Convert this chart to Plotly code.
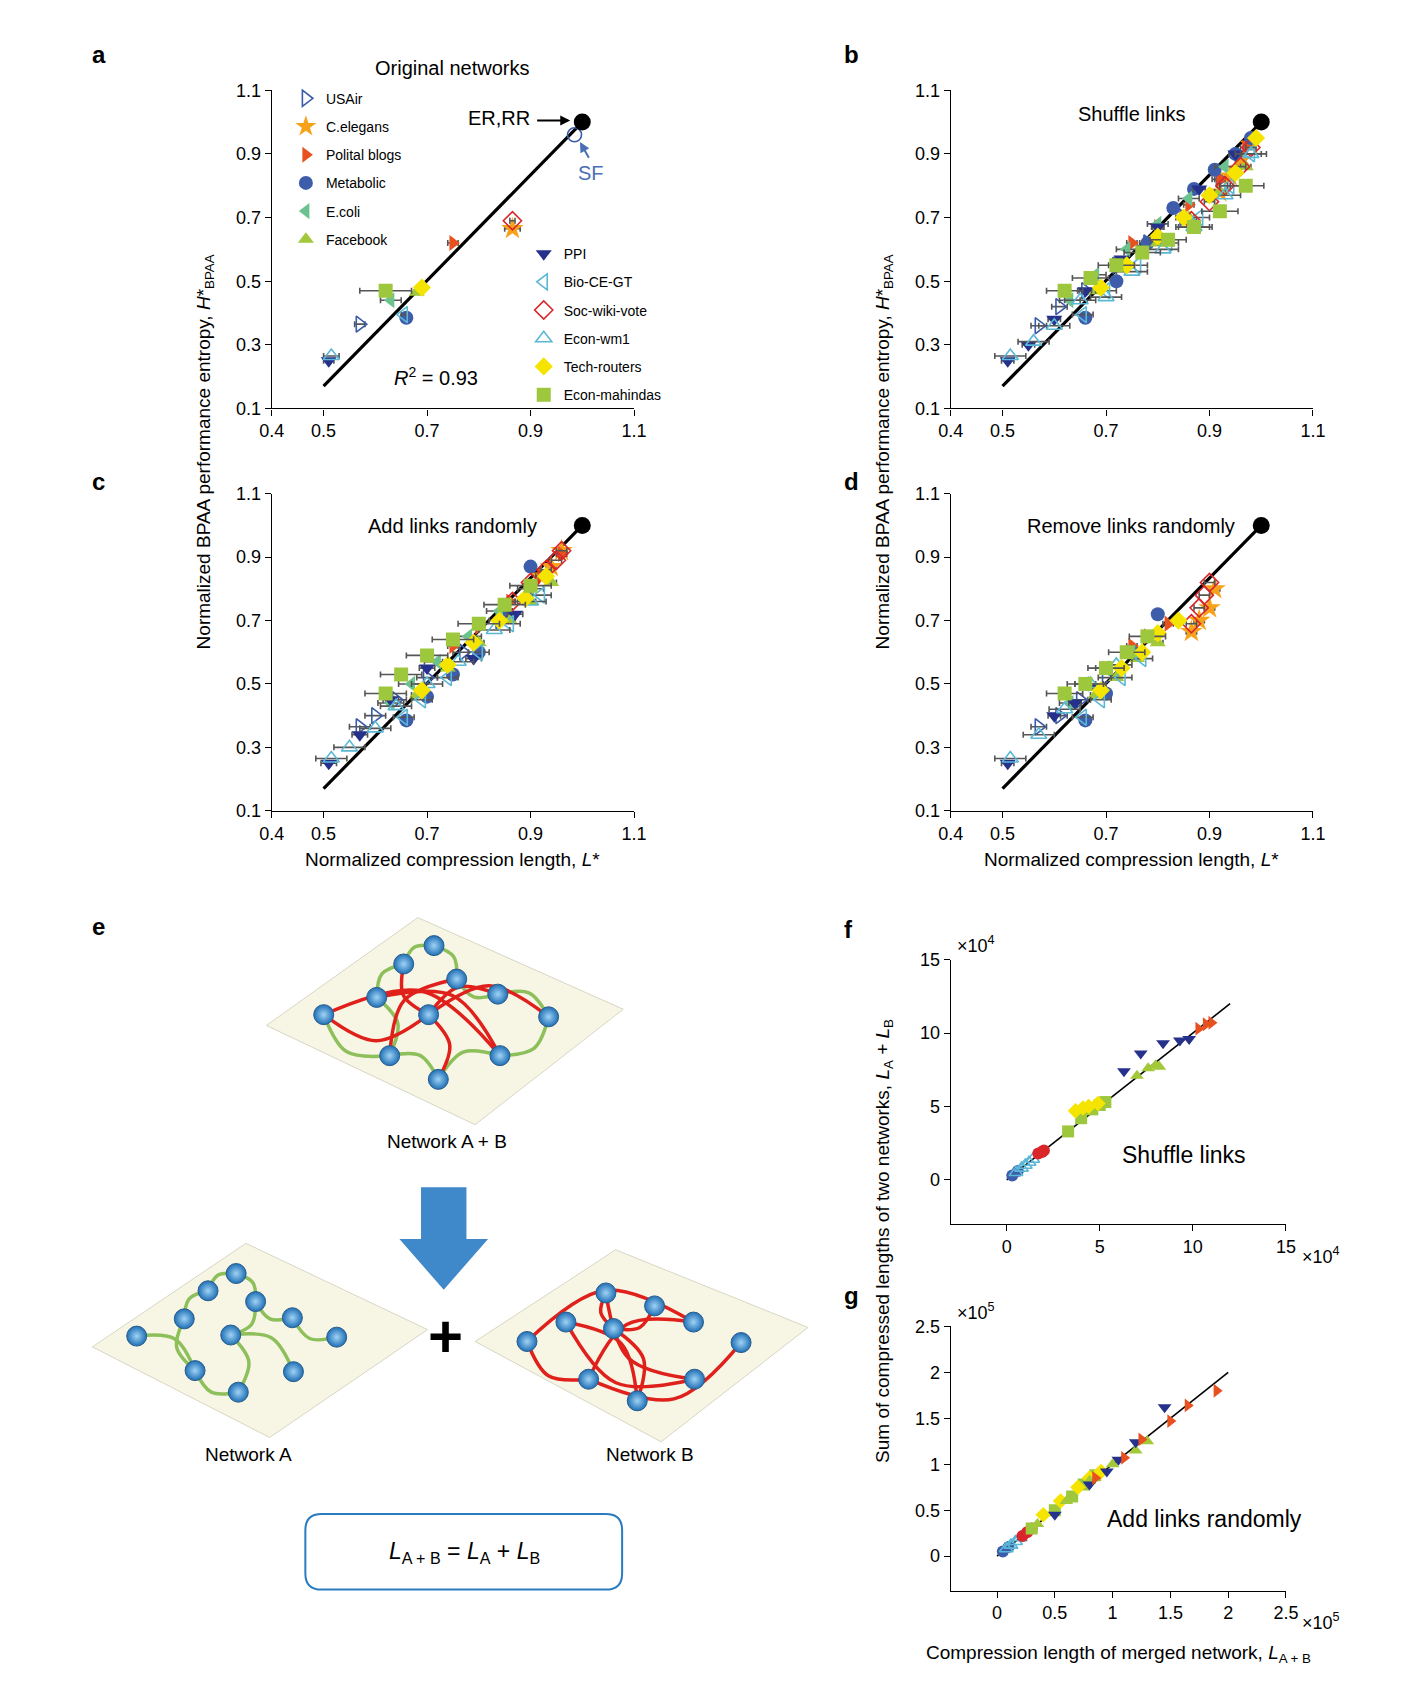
import plotly.graph_objects as go

W, H = 1402, 1691
# layout coordinates below were read on a scaled view of the reference
VW, VH = 1300, 1568
SX, OX = 0.979, 20
SY, OY = 0.988, 16
FONT = "Liberation Sans"

NETWORKS = ["USAir", "C.elegans", "Polital blogs", "Metabolic", "E.coli", "Facebook",
            "PPI", "Bio-CE-GT", "Soc-wiki-vote", "Econ-wm1", "Tech-routers", "Econ-mahindas"]
SYMBOLS = ["triangle-right-open", "star", "triangle-right", "circle", "triangle-left", "triangle-up",
           "triangle-down", "triangle-left-open", "diamond-open", "triangle-up-open", "diamond", "square"]
COLORS = ["#3a5ba8", "#f7a21b", "#e8501f", "#3d5daa", "#6cc28f", "#a3c93a",
          "#25318a", "#5ab8d6", "#d9262a", "#5ab8d6", "#f5e400", "#9dc73c"]

# panel a: original networks
a_x = [0.57, 0.865, 0.75, 0.66, 0.63, 0.68, 0.51, 0.655, 0.865, 0.515, 0.69, 0.62]
a_y = [0.365, 0.665, 0.62, 0.385, 0.44, 0.465, 0.25, 0.395, 0.69, 0.265, 0.48, 0.47]
a_err = [0.01, 0.015, 0.01, 0.005, 0.02, 0.005, 0.01, 0.005, 0.005, 0.015, 0.005, 0.05]
sf_x, sf_y = [0.985], [0.96]
er_x, er_y = [1.0], [1.0]
fit_x = [0.5, 1.0]
fit_y = [0.17, 1.0]

# panel b: shuffle links
b_x = [[0.57, 0.61, 0.66, 0.72, 0.78, 0.85, 0.92], [0.92, 0.94, 0.96, 0.98],
       [0.75, 0.8, 0.86, 0.92, 0.97], [0.66, 0.72, 0.78, 0.83, 0.87, 0.91, 0.95, 0.98],
       [0.63, 0.68, 0.74, 0.8, 0.86, 0.93], [0.68, 0.74, 0.8, 0.86, 0.92, 0.97],
       [0.51, 0.55, 0.6, 0.66, 0.73, 0.8, 0.88, 0.95], [0.655, 0.7, 0.76, 0.82, 0.88, 0.94, 0.98],
       [0.865, 0.9, 0.93, 0.96, 0.98], [0.515, 0.56, 0.6, 0.65, 0.7, 0.75, 0.81, 0.87, 0.93, 0.98],
       [0.69, 0.74, 0.8, 0.85, 0.9, 0.95, 0.99], [0.62, 0.67, 0.72, 0.77, 0.82, 0.87, 0.92, 0.97]]
b_y = [[0.36, 0.42, 0.47, 0.55, 0.62, 0.7, 0.82], [0.78, 0.83, 0.88, 0.93],
       [0.62, 0.67, 0.74, 0.82, 0.92], [0.385, 0.5, 0.62, 0.73, 0.79, 0.85, 0.9, 0.95],
       [0.44, 0.52, 0.6, 0.68, 0.76, 0.86], [0.47, 0.55, 0.62, 0.7, 0.78, 0.86],
       [0.25, 0.3, 0.38, 0.47, 0.57, 0.67, 0.79, 0.9], [0.395, 0.47, 0.55, 0.62, 0.7, 0.8, 0.9],
       [0.69, 0.75, 0.8, 0.86, 0.92], [0.265, 0.31, 0.36, 0.44, 0.45, 0.53, 0.6, 0.67, 0.77, 0.9],
       [0.48, 0.55, 0.64, 0.7, 0.77, 0.84, 0.95], [0.47, 0.51, 0.55, 0.59, 0.63, 0.67, 0.72, 0.8]]
b_err = [0.015, 0.01, 0.01, 0.005, 0.02, 0.01, 0.012, 0.02, 0.01, 0.03, 0.01, 0.035]

# panel c: add links randomly
c_x = [[0.57, 0.6, 0.64, 0.7, 0.77, 0.84], [0.92, 0.94, 0.96], [0.75, 0.8, 0.86, 0.92, 0.96],
       [0.66, 0.7, 0.75, 0.8, 0.85, 0.9], [0.63, 0.67, 0.72, 0.78, 0.84, 0.9],
       [0.68, 0.74, 0.8, 0.86, 0.9, 0.94], [0.51, 0.57, 0.63, 0.7, 0.79, 0.87],
       [0.655, 0.69, 0.74, 0.8, 0.86, 0.92], [0.865, 0.9, 0.93, 0.95, 0.96],
       [0.515, 0.55, 0.6, 0.64, 0.7, 0.76, 0.83, 0.9], [0.69, 0.74, 0.79, 0.84, 0.89, 0.93],
       [0.62, 0.65, 0.7, 0.75, 0.8, 0.85, 0.9]]
c_y = [[0.365, 0.4, 0.45, 0.52, 0.6, 0.7], [0.84, 0.87, 0.92], [0.62, 0.68, 0.76, 0.84, 0.91],
       [0.385, 0.46, 0.53, 0.6, 0.72, 0.87], [0.44, 0.5, 0.57, 0.65, 0.73, 0.8],
       [0.465, 0.55, 0.63, 0.7, 0.76, 0.82], [0.25, 0.34, 0.45, 0.55, 0.58, 0.72],
       [0.395, 0.45, 0.52, 0.6, 0.69, 0.78], [0.76, 0.82, 0.86, 0.89, 0.92],
       [0.265, 0.3, 0.36, 0.43, 0.5, 0.57, 0.67, 0.76], [0.48, 0.56, 0.63, 0.7, 0.77, 0.84],
       [0.47, 0.53, 0.59, 0.64, 0.69, 0.75, 0.81]]
c_err = [0.02, 0.01, 0.01, 0.008, 0.025, 0.01, 0.015, 0.02, 0.01, 0.03, 0.01, 0.04]

# panel d: remove links randomly
d_x = [[0.57, 0.61, 0.65, 0.7], [0.865, 0.88, 0.9, 0.91], [0.75, 0.78, 0.82],
       [0.66, 0.7, 0.75, 0.8], [0.63, 0.66, 0.7, 0.75], [0.68, 0.72, 0.76, 0.8],
       [0.51, 0.6, 0.64, 0.68], [0.655, 0.69, 0.73, 0.77], [0.865, 0.88, 0.89, 0.9],
       [0.515, 0.57, 0.62, 0.67, 0.72], [0.69, 0.73, 0.77, 0.8, 0.84], [0.62, 0.66, 0.7, 0.74, 0.78]]
d_y = [[0.365, 0.4, 0.45, 0.52], [0.665, 0.7, 0.74, 0.8], [0.62, 0.65, 0.69],
       [0.385, 0.47, 0.6, 0.72], [0.44, 0.5, 0.55, 0.6], [0.465, 0.52, 0.58, 0.63],
       [0.25, 0.4, 0.44, 0.49], [0.395, 0.45, 0.52, 0.58], [0.69, 0.74, 0.78, 0.82],
       [0.265, 0.34, 0.42, 0.5, 0.56], [0.48, 0.55, 0.6, 0.66, 0.7], [0.47, 0.5, 0.55, 0.6, 0.65]]
d_err = [0.015, 0.01, 0.01, 0.005, 0.02, 0.01, 0.012, 0.02, 0.01, 0.03, 0.01, 0.035]

# panel f (x1e4) and g (x1e5): merged vs sum, index into NETWORKS
fg_nets = [3, 9, 8, 11, 10, 5, 6, 2]
f_x = [[0.3, 0.6], [0.5, 0.8, 1.0, 1.2, 1.4], [1.7, 1.9, 2.0], [3.3, 4.0, 4.6, 5.0, 5.3],
       [3.7, 4.1, 4.4, 4.9], [7.0, 7.6, 8.0, 8.2], [6.3, 7.2, 8.4, 9.3, 9.8], [10.3, 10.7, 11.0]]
f_y = [[0.3, 0.6], [0.5, 0.8, 1.0, 1.2, 1.4], [1.8, 1.9, 2.0], [3.3, 4.2, 4.8, 5.1, 5.3],
       [4.7, 4.9, 5.0, 5.2], [7.1, 7.6, 7.8, 7.7], [7.4, 8.6, 9.3, 9.5, 9.6], [10.3, 10.6, 10.7]]
g_x = [[0.05, 0.1], [0.08, 0.12, 0.16, 0.2], [0.22, 0.26, 0.3], [0.3, 0.5, 0.65, 0.75, 0.85],
       [0.4, 0.55, 0.7, 0.8, 0.9], [0.35, 0.6, 0.8, 1.0, 1.2, 1.3], [0.5, 0.8, 0.95, 1.05, 1.2, 1.45],
       [0.85, 1.1, 1.25, 1.5, 1.65, 1.9]]
g_y = [[0.05, 0.1], [0.08, 0.12, 0.16, 0.2], [0.22, 0.26, 0.3], [0.3, 0.5, 0.65, 0.78, 0.88],
       [0.45, 0.6, 0.75, 0.85, 0.92], [0.35, 0.6, 0.82, 1.0, 1.15, 1.25], [0.45, 0.78, 0.92, 1.05, 1.24, 1.62],
       [0.85, 1.07, 1.27, 1.47, 1.64, 1.8]]
f_line = [0, 12]
g_line = [0, 2]

# panel e illustration (view pixel units)
plane_ab = [(247, 950), (387, 850), (577, 935), (440, 1042)]
plane_a = [(86, 1248), (228, 1152), (396, 1232), (250, 1332)]
plane_b = [(440, 1243), (570, 1158), (748, 1230), (612, 1336)]
nodes_ab = [(402, 876), (374, 893), (423, 907), (461, 921), (349, 924), (397, 940), (300, 940),
            (508, 942), (361, 978), (463, 978), (406, 1000)]
green_ab = [(0, 1), (0, 2), (2, 3), (3, 7), (1, 4), (4, 8), (6, 8), (7, 9), (9, 10), (8, 10)]
red_ab = [(6, 5), (5, 7), (1, 5), (4, 9), (2, 8), (5, 10), (3, 5), (6, 9)]
nodes_a = [(219, 1180), (193, 1196), (237, 1206), (271, 1221), (171, 1222), (214, 1237), (127, 1238),
           (312, 1239), (181, 1270), (272, 1271), (221, 1290)]
edges_a = [(0, 1), (0, 2), (1, 4), (2, 5), (3, 7), (6, 8), (4, 8), (5, 9), (8, 10), (5, 10), (2, 3)]
nodes_b = [(561, 1198), (606, 1210), (524, 1225), (642, 1225), (568, 1231), (488, 1243), (686, 1244),
           (545, 1278), (643, 1278), (590, 1298)]
edges_b = [(0, 4), (1, 4), (2, 8), (5, 3), (5, 7), (4, 9), (3, 7), (6, 7), (0, 8), (2, 9)]

fig = go.Figure()


def px(x):
    return (x - OX) / SX / VW


def py(y):
    return 1 - (y - OY) / SY / VH


def dom_x(a, b):
    return [px(a), px(b)]


def dom_y(top, bottom):
    return [py(bottom), py(top)]


axis_font = dict(family=FONT, size=18, color="black")


def base_axis(**kw):
    d = dict(showline=True, linecolor="black", linewidth=1.4, ticks="outside", ticklen=6,
             tickcolor="black", showgrid=False, zeroline=False, tickfont=axis_font)
    d.update(kw)
    return d


panel_boxes = {"": (252, 587, 83, 378), "2": (880, 1215, 83, 378),
               "3": (252, 587, 457, 751), "4": (880, 1215, 457, 751)}
layout_axes = {}
for k, (x0, x1, y0, y1) in panel_boxes.items():
    layout_axes["xaxis" + k] = base_axis(domain=dom_x(x0, x1), range=[0.4, 1.1],
                                         tickvals=[0.4, 0.5, 0.7, 0.9, 1.1], anchor="y" + k)
    layout_axes["yaxis" + k] = base_axis(domain=dom_y(y0, y1), range=[0.1, 1.1],
                                         tickvals=[0.1, 0.3, 0.5, 0.7, 0.9, 1.1], anchor="x" + k)
layout_axes["xaxis5"] = base_axis(domain=dom_x(880, 1190), range=[-3, 15], tickvals=[0, 5, 10, 15], anchor="y5")
layout_axes["yaxis5"] = base_axis(domain=dom_y(889, 1134), range=[-3, 15], tickvals=[0, 5, 10, 15], anchor="x5")
layout_axes["xaxis6"] = base_axis(domain=dom_x(880, 1190), range=[-0.4, 2.5],
                                  tickvals=[0, 0.5, 1, 1.5, 2, 2.5], ticktext=["0", "0.5", "1", "1.5", "2", "2.5"],
                                  anchor="y6")
layout_axes["yaxis6"] = base_axis(domain=dom_y(1229, 1474), range=[-0.375, 2.5],
                                  tickvals=[0, 0.5, 1, 1.5, 2, 2.5], ticktext=["0", "0.5", "1", "1.5", "2", "2.5"],
                                  anchor="x6")
layout_axes["xaxis7"] = dict(domain=[0, 1], range=[OX, OX + SX * VW], visible=False, anchor="y7")
layout_axes["yaxis7"] = dict(domain=[0, 1], range=[OY + SY * VH, OY], visible=False, anchor="x7")

ax_ids = {"": ("x", "y"), "2": ("x2", "y2"), "3": ("x3", "y3"), "4": ("x4", "y4")}


def add_fit(xa, ya):
    fig.add_trace(go.Scatter(x=fit_x, y=fit_y, mode="lines", line=dict(color="black", width=3.2),
                             showlegend=False, xaxis=xa, yaxis=ya, hoverinfo="skip"))


def marker_for(i, size=14):
    open_ = SYMBOLS[i].endswith("open")
    return dict(symbol=SYMBOLS[i], color=COLORS[i], size=size + (3 if SYMBOLS[i] == "star" else 0),
                line=dict(color=COLORS[i], width=1.6 if open_ else 0))


err_style = dict(type="data", color="#555555", thickness=1.6, width=3)

# panel a
add_fit("x", "y")
for i, name in enumerate(NETWORKS):
    fig.add_trace(go.Scatter(x=[a_x[i]], y=[a_y[i]], mode="markers", name=name, marker=marker_for(i),
                             error_x=dict(array=[a_err[i]], **err_style), xaxis="x", yaxis="y",
                             legendgroup=name, legend="legend" if i < 6 else "legend2"))
fig.add_trace(go.Scatter(x=sf_x, y=sf_y, mode="markers", showlegend=False, xaxis="x", yaxis="y",
                         marker=dict(symbol="circle-open", size=14, color="#3a5ba8", line=dict(width=1.6))))
fig.add_trace(go.Scatter(x=er_x, y=er_y, mode="markers", showlegend=False, xaxis="x", yaxis="y",
                         marker=dict(size=17, color="black")))

# panels b, c, d
for k, (xs, ys, es) in {"2": (b_x, b_y, b_err), "3": (c_x, c_y, c_err), "4": (d_x, d_y, d_err)}.items():
    xa, ya = ax_ids[k]
    add_fit(xa, ya)
    for i in range(len(NETWORKS)):
        fig.add_trace(go.Scatter(x=xs[i], y=ys[i], mode="markers", showlegend=False, marker=marker_for(i),
                                 error_x=dict(array=[es[i]] * len(xs[i]), **err_style), xaxis=xa, yaxis=ya))
    fig.add_trace(go.Scatter(x=er_x, y=er_y, mode="markers", showlegend=False, xaxis=xa, yaxis=ya,
                             marker=dict(size=17, color="black")))

# panels f, g
for xa, ya, xs, ys, ln in [("x5", "y5", f_x, f_y, f_line), ("x6", "y6", g_x, g_y, g_line)]:
    fig.add_trace(go.Scatter(x=ln, y=ln, mode="lines", line=dict(color="black", width=1.6),
                             showlegend=False, xaxis=xa, yaxis=ya))
    for j, i in enumerate(fg_nets):
        m = marker_for(i, size=12)
        if i == 8:
            m = dict(symbol="circle", color=COLORS[i], size=12)
        fig.add_trace(go.Scatter(x=xs[j], y=ys[j], mode="markers", showlegend=False, marker=m,
                                 xaxis=xa, yaxis=ya))

# panel e illustration
shapes = []


def plane(pts):
    path = "M " + " L ".join(f"{x},{y}" for x, y in pts) + " Z"
    shapes.append(dict(type="path", path=path, xref="x7", yref="y7", fillcolor="#f7f5e4",
                       line=dict(color="#d8d6c4", width=1), layer="below"))


def edges(nodes, pairs, color):
    for n, (s, t) in enumerate(pairs):
        (x0, y0), (x1, y1) = nodes[s], nodes[t]
        bend = 0.25 if n % 2 == 0 else -0.25
        mx = (x0 + x1) / 2 - (y1 - y0) * bend
        my = (y0 + y1) / 2 + (x1 - x0) * bend
        fig.add_trace(go.Scatter(x=[x0, mx, x1], y=[y0, my, y1], mode="lines",
                                 line=dict(color=color, width=3.5, shape="spline"),
                                 showlegend=False, xaxis="x7", yaxis="y7", hoverinfo="skip"))


def node_trace(nodes):
    fig.add_trace(go.Scatter(x=[p[0] for p in nodes], y=[p[1] for p in nodes], mode="markers",
                             marker=dict(size=20, color="#1f6fb5", line=dict(color="#2a5c8c", width=1),
                                         gradient=dict(type="radial", color="#9fd3f5")),
                             showlegend=False, xaxis="x7", yaxis="y7", hoverinfo="skip"))


for p in (plane_ab, plane_a, plane_b):
    plane(p)
edges(nodes_ab, green_ab, "#8dbf5a")
edges(nodes_ab, red_ab, "#e0201b")
edges(nodes_a, edges_a, "#8dbf5a")
edges(nodes_b, edges_b, "#e0201b")
node_trace(nodes_ab)
node_trace(nodes_a)
node_trace(nodes_b)

# block arrow and formula box
shapes.append(dict(type="path", xref="x7", yref="y7",
                   path="M 390,1100 L 432,1100 L 432,1148 L 452,1148 L 411,1195 L 370,1148 L 390,1148 Z",
                   fillcolor="#3f88c9", line=dict(width=0)))
shapes.append(dict(type="path", xref="x7", yref="y7",
                   path="M 298,1403 L 561,1403 Q 576,1403 576,1418 L 576,1458 Q 576,1473 561,1473 "
                        "L 298,1473 Q 283,1473 283,1458 L 283,1418 Q 283,1403 298,1403 Z",
                   fillcolor="white", line=dict(color="#2a7cc0", width=2)))

ann = []


def text(x, y, s, size=18, **kw):
    d = dict(x=px(x), y=py(y), xref="paper", yref="paper", text=s, showarrow=False,
             xanchor="center", yanchor="middle",
             font=dict(family=FONT, size=size, color=kw.pop("color", "black")))
    d.update(kw)
    ann.append(d)


def arrow(x0, y0, x1, y1, color):
    ann.append(dict(x=x1, y=y1, ax=x0, ay=y0, xref="x7", yref="y7", axref="x7", ayref="y7",
                    showarrow=True, arrowhead=2, arrowwidth=2, arrowcolor=color, text=""))


for lab, x, y in [("a", 92, 50), ("b", 788, 50), ("c", 92, 446), ("d", 788, 446),
                  ("e", 92, 858), ("f", 785, 861), ("g", 788, 1200)]:
    text(x, y, f"<b>{lab}</b>", size=24)
text(419, 62, "Original networks", size=20)
text(1047, 105, "Shuffle links", size=20)
text(419, 487, "Add links randomly", size=20)
text(1047, 487, "Remove links randomly", size=20)
text(1096, 1070, "Shuffle links", size=23)
text(1115, 1408, "Add links randomly", size=23)
text(404, 348, "<i>R</i><sup>2</sup> = 0.93", size=20)
text(462, 109, "ER,RR", size=20)
arrow(496, 111, 528, 111, "black")
text(547, 160, "SF", size=20, color="#4a6fb5")
arrow(546, 147, 537, 131, "#4a6fb5")
yt = "Normalized BPAA performance entropy, <i>H</i>*<sub>BPAA</sub>"
text(190, 418, yt, size=19, textangle=-90)
text(818, 418, yt, size=19, textangle=-90)
text(419, 796, "Normalized compression length, <i>L</i>*", size=19)
text(1047, 796, "Normalized compression length, <i>L</i>*", size=19)
text(818, 1150, "Sum of compressed lengths of two networks, <i>L</i><sub>A</sub> + <i>L</i><sub>B</sub>",
     size=19, textangle=-90)
text(1035, 1533, "Compression length of merged network, <i>L</i><sub>A + B</sub>", size=19)
text(903, 875, "×10<sup>4</sup>", size=18)
text(1222, 1163, "×10<sup>4</sup>", size=18)
text(903, 1215, "×10<sup>5</sup>", size=18)
text(1222, 1503, "×10<sup>5</sup>", size=18)
text(414, 1058, "Network A + B", size=19)
text(230, 1348, "Network A", size=19)
text(602, 1348, "Network B", size=19)
text(413, 1238, "<b>+</b>", size=60)
text(430, 1439, "<i>L</i><sub>A + B</sub> = <i>L</i><sub>A</sub> + <i>L</i><sub>B</sub>", size=23)

leg_common = dict(font=dict(family=FONT, size=14), bgcolor="rgba(0,0,0,0)", tracegroupgap=7,
                  xanchor="left", yanchor="top", itemwidth=30)
fig.update_layout(
    width=W, height=H, margin=dict(l=0, r=0, t=0, b=0),
    paper_bgcolor="white", plot_bgcolor="rgba(0,0,0,0)",
    font=dict(family=FONT, color="black"),
    shapes=shapes, annotations=ann,
    legend=dict(x=px(265), y=py(76), **leg_common),
    legend2=dict(x=px(485), y=py(220), **leg_common),
    **layout_axes,
)
fig.write_html("out.html")
